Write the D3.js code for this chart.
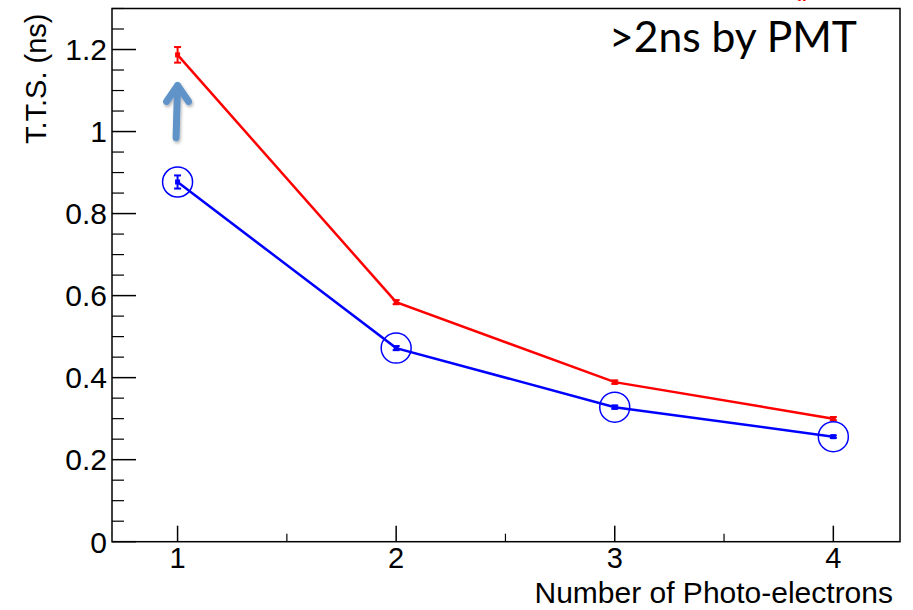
<!DOCTYPE html>
<html>
<head>
<meta charset="utf-8">
<script src="https://cdn.jsdelivr.net/npm/d3@7"></script>
<style>
  body { margin: 0; background: #fff; }
  text { font-family: "Liberation Sans", Arial, sans-serif; }
</style>
</head>
<body>
<div id="chart"></div>
<script>
// values
var nPhotoElectrons = [1, 2, 3, 4];
var ttsRed  = [1.187, 0.584, 0.389, 0.300];
var errRed  = [0.019, 0.005, 0.004, 0.004];
var ttsBlue = [0.877, 0.472, 0.328, 0.256];
var errBlue = [0.016, 0.005, 0.004, 0.003];
var yMajorTicks = [0, 0.2, 0.4, 0.6, 0.8, 1, 1.2];
var yTickLabels = ["0", "0.2", "0.4", "0.6", "0.8", "1", "1.2"];
var xMajorTicks = [1, 2, 3, 4];
var arrowAt = {x: 1, from: 0.985, to: 1.122};

var W = 913, H = 610;
var margin = {top: 8.5, right: 13, bottom: 68.3, left: 112};
var width = W - margin.left - margin.right,
    height = H - margin.top - margin.bottom;

var svg = d3.select("#chart").append("svg")
  .attr("width", W).attr("height", H);

var defs = svg.append("defs");
var f = defs.append("filter").attr("id", "shadow")
  .attr("x", "-50%").attr("y", "-50%").attr("width", "200%").attr("height", "200%");
f.append("feDropShadow").attr("dx", 1).attr("dy", 2).attr("stdDeviation", 1.5)
  .attr("flood-color", "#000").attr("flood-opacity", 0.3);

var g = svg.append("g")
  .attr("transform", "translate(" + margin.left + "," + margin.top + ")");

var x = d3.scaleLinear().domain([0.7, 4.305]).range([0, width]);
var y = d3.scaleLinear().domain([0, 1.3]).range([height, 0]);

// frame
g.append("rect")
  .attr("width", width).attr("height", height)
  .style("fill", "none").style("stroke", "#000").style("stroke-width", 1.5);

// y ticks
var yMinor = d3.range(0, 1.3001, 0.05).filter(function(v) {
  return Math.abs(v / 0.2 - Math.round(v / 0.2)) > 1e-6;
});
g.append("g").selectAll("line.minor").data(yMinor).enter().append("line")
  .attr("x1", 0).attr("x2", 12)
  .attr("y1", function(d) { return y(d); }).attr("y2", function(d) { return y(d); })
  .style("stroke", "#000").style("stroke-width", 1.2);
g.append("g").selectAll("line.major").data(yMajorTicks).enter().append("line")
  .attr("x1", 0).attr("x2", 24)
  .attr("y1", function(d) { return y(d); }).attr("y2", function(d) { return y(d); })
  .style("stroke", "#000").style("stroke-width", 1.5);
g.append("g").selectAll("text").data(yMajorTicks).enter().append("text")
  .attr("x", -5).attr("y", function(d) { return y(d); })
  .attr("dy", "0.36em")
  .attr("text-anchor", "end")
  .style("font-size", "30px")
  .text(function(d, i) { return yTickLabels[i]; });

// x ticks
var xMinor = [1.5, 2.5, 3.5];
g.append("g").selectAll("line").data(xMinor).enter().append("line")
  .attr("x1", function(d) { return x(d); }).attr("x2", function(d) { return x(d); })
  .attr("y1", height).attr("y2", height - 8)
  .style("stroke", "#000").style("stroke-width", 1.2);
g.append("g").selectAll("line").data(xMajorTicks).enter().append("line")
  .attr("x1", function(d) { return x(d); }).attr("x2", function(d) { return x(d); })
  .attr("y1", height).attr("y2", height - 16)
  .style("stroke", "#000").style("stroke-width", 1.5);
g.append("g").selectAll("text").data(xMajorTicks).enter().append("text")
  .attr("x", function(d) { return x(d); }).attr("y", height + 26)
  .attr("text-anchor", "middle")
  .style("font-size", "29px")
  .text(function(d) { return d; });

// axis titles
g.append("text")
  .attr("x", width - 7).attr("y", height + 61)
  .attr("text-anchor", "end")
  .style("font-size", "30px")
  .text("Number of Photo-electrons");

g.append("text")
  .attr("transform", "translate(" + (-66) + "," + 5 + ") rotate(-90)")
  .attr("text-anchor", "end")
  .style("font-size", "29px")
  .text("T.T.S. (ns)");

// series
function drawSeries(vals, errs, color) {
  var pts = nPhotoElectrons.map(function(n, i) { return {x: n, y: vals[i], e: errs[i]}; });
  var line = d3.line()
    .x(function(d) { return x(d.x); })
    .y(function(d) { return y(d.y); });
  g.append("path").attr("d", line(pts))
    .style("fill", "none").style("stroke", color).style("stroke-width", 2.5);
  var s = g.append("g");
  s.selectAll("line.bar").data(pts).enter().append("line")
    .attr("x1", function(d) { return x(d.x); }).attr("x2", function(d) { return x(d.x); })
    .attr("y1", function(d) { return y(d.y - d.e); }).attr("y2", function(d) { return y(d.y + d.e); })
    .style("stroke", color).style("stroke-width", 2);
  [-1, 1].forEach(function(sg) {
    s.selectAll("line.cap" + sg).data(pts).enter().append("line")
      .attr("x1", function(d) { return x(d.x) - 3.5; }).attr("x2", function(d) { return x(d.x) + 3.5; })
      .attr("y1", function(d) { return y(d.y + sg * d.e); }).attr("y2", function(d) { return y(d.y + sg * d.e); })
      .style("stroke", color).style("stroke-width", 2);
  });
  s.selectAll("rect").data(pts).enter().append("rect")
    .attr("x", function(d) { return x(d.x) - 2.5; }).attr("y", function(d) { return y(d.y) - 2.5; })
    .attr("width", 5).attr("height", 5)
    .style("fill", color);
  return pts;
}

drawSeries(ttsRed, errRed, "#ff0000");
var bluePts = drawSeries(ttsBlue, errBlue, "#0000ff");

// open circles around blue points
g.append("g").selectAll("circle").data(bluePts).enter().append("circle")
  .attr("cx", function(d) { return x(d.x); }).attr("cy", function(d) { return y(d.y); })
  .attr("r", 15)
  .style("fill", "none").style("stroke", "#0000ff").style("stroke-width", 1.5);

// annotation arrow
var ax = x(arrowAt.x), ay0 = y(arrowAt.from), ay1 = y(arrowAt.to);
g.append("path")
  .attr("d", "M" + (ax - 1.5) + "," + ay0 + "L" + ax + "," + (ay1 + 4) +
             "M" + (ax - 11) + "," + (ay1 + 20) + "L" + ax + "," + (ay1 + 4) +
             "L" + (ax + 11) + "," + (ay1 + 20))
  .style("fill", "none").style("stroke", "#6094c8").style("stroke-width", 7)
  .style("stroke-linecap", "round").style("stroke-linejoin", "round")
  .attr("filter", "url(#shadow)");

// label
svg.append("text")
  .attr("x", 609).attr("y", 52)
  .attr("textLength", 248).attr("lengthAdjust", "spacingAndGlyphs")
  .style("font-family", "Lato, 'Open Sans', sans-serif")
  .style("font-size", "43px")
  .text(">2ns by PMT");

// red text cut off at the top edge of the picture
svg.append("text")
  .attr("x", 792).attr("y", -5)
  .style("font-size", "28px").style("fill", "#ff0000")
  .text("(p");
</script>
</body>
</html>
